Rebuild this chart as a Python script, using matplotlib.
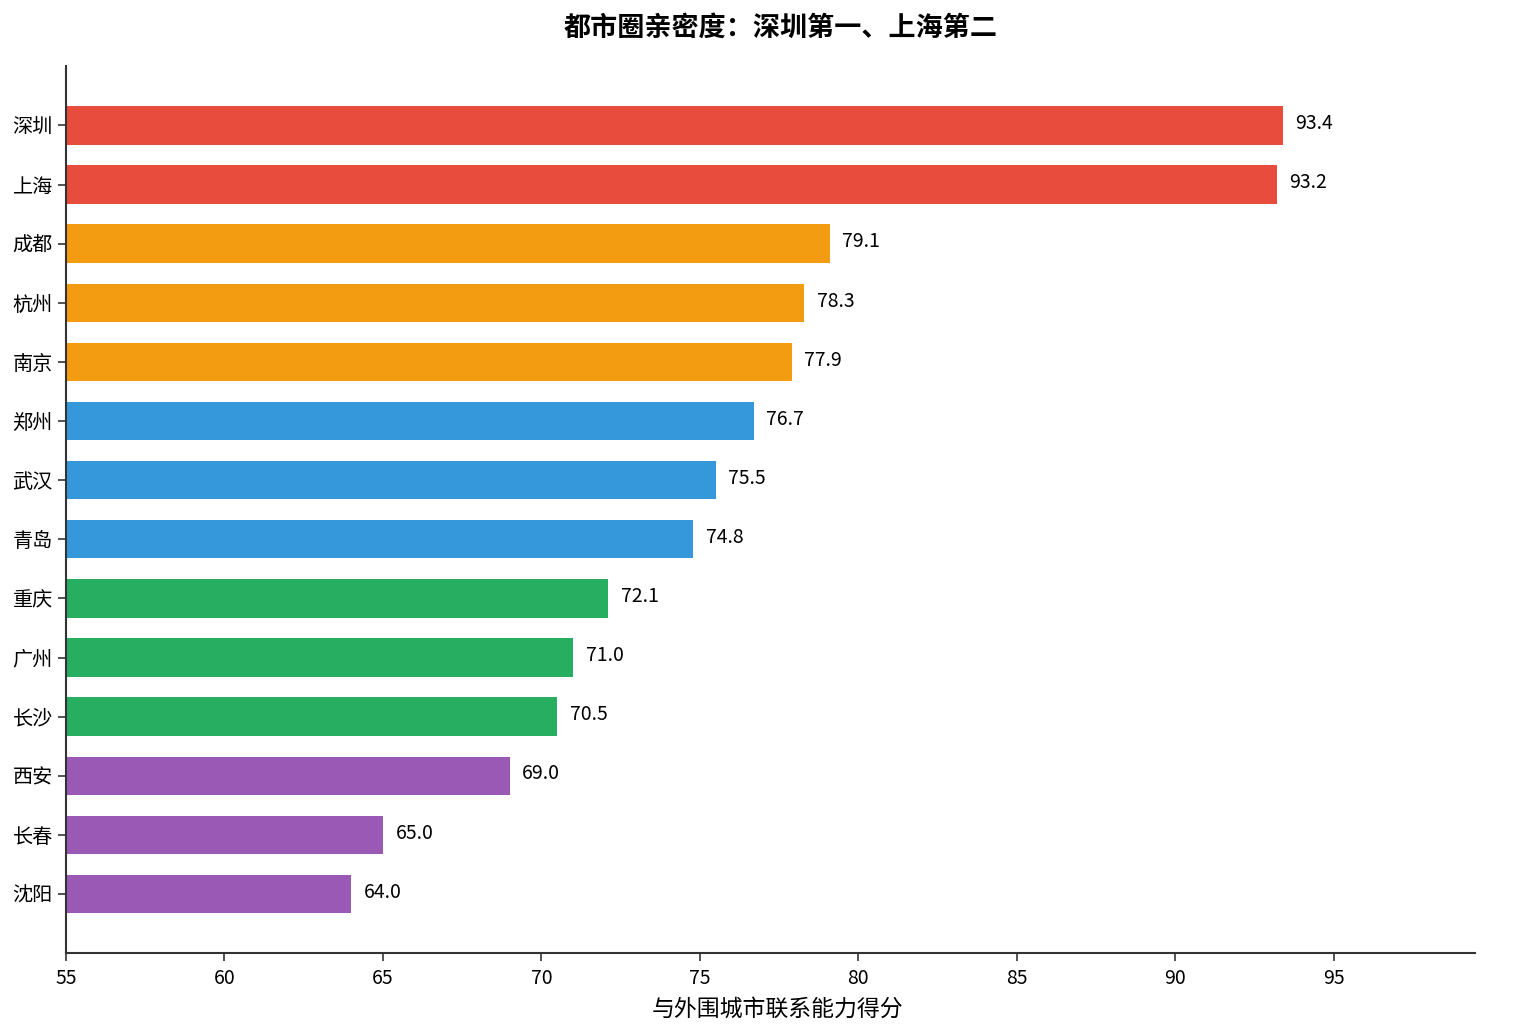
import matplotlib
matplotlib.use("Agg")
import matplotlib.pyplot as plt

plt.rcParams['font.family'] = ['Noto Sans CJK SC', 'DejaVu Sans']

cities = ["深圳", "上海", "成都", "杭州", "南京", "郑州", "武汉", "青岛",
          "重庆", "广州", "长沙", "西安", "长春", "沈阳"]
scores = [93.4, 93.2, 79.1, 78.3, 77.9, 76.7, 75.5, 74.8,
          72.1, 71.0, 70.5, 69.0, 65.0, 64.0]
tiers = [0, 0, 1, 1, 1, 2, 2, 2, 3, 3, 3, 4, 4, 4]
tier_colors = ["#e74c3c", "#f39c12", "#3498db", "#27ae60", "#9b59b6"]

fig = plt.figure(figsize=(15.24, 10.36), dpi=100)
ax = fig.add_axes([0.0433, 0.080, 0.9247, 0.856])

n = len(cities)
pos = [n - 1 - i for i in range(n)]
colors = [tier_colors[t] for t in tiers]
bars = ax.barh(pos, scores, left=0, height=0.65, color=colors)

for b, v in zip(bars, scores):
    ax.text(v + 0.4, b.get_y() + b.get_height() / 2 + 0.03, f"{v:.1f}",
            va='center', ha='left', fontsize=14)

ax.set_xlim(55, max(scores) * 1.065)
ax.set_ylim(-1, n)
ax.set_yticks(pos, cities, fontsize=14.5)
ax.set_xticks([55, 60, 65, 70, 75, 80, 85, 90, 95])
ax.tick_params(axis='x', labelsize=14, pad=5)
ax.tick_params(axis='both', length=6, width=1.2, color="#333333")

for s in ['top', 'right']:
    ax.spines[s].set_visible(False)
for s in ['left', 'bottom']:
    ax.spines[s].set_linewidth(1.5)
    ax.spines[s].set_color("#333333")

ax.set_xlabel("与外围城市联系能力得分", fontsize=16.5)
ax.xaxis.set_label_coords(0.505, -0.05)
fig.suptitle("都市圈亲密度：深圳第一、上海第二", fontsize=19.5,
             fontweight='bold', x=0.512, y=0.987)

fig.savefig("out.png", dpi=100)
